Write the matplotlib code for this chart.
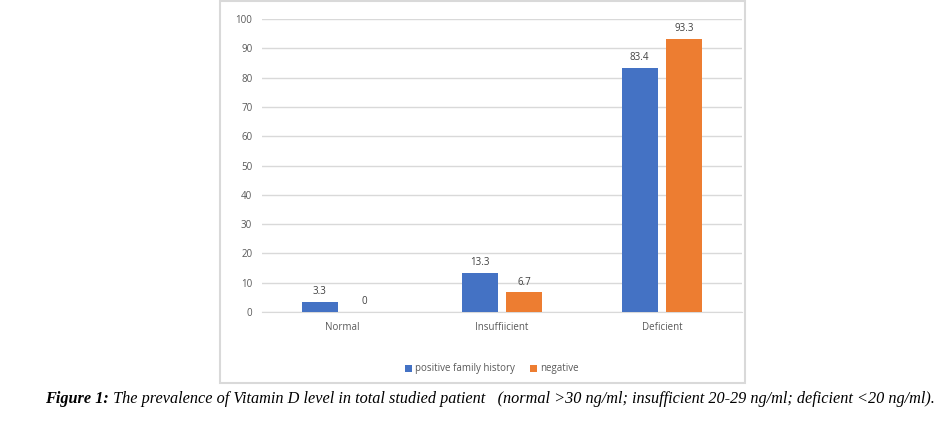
import matplotlib
matplotlib.use("Agg")
import matplotlib.pyplot as plt
from matplotlib.patches import Rectangle
import numpy as np

categories = ["Normal", "Insuffiicient", "Deficient"]
series_names = ["positive family history", "negative"]
positive = [3.3, 13.3, 83.4]
negative = [0, 6.7, 93.3]
yticks = [0, 10, 20, 30, 40, 50, 60, 70, 80, 90, 100]

W, H = 949, 422
fig = plt.figure(figsize=(W / 100, H / 100), dpi=100)
fig.patch.set_facecolor("white")

# chart border
fig.patches.append(Rectangle((220 / W, 1 - 383 / H), (745 - 220) / W, (383 - 1) / H,
                             transform=fig.transFigure, fill=False,
                             edgecolor="#d9d9d9", linewidth=1.5))

ax = fig.add_axes([262 / W, 1 - 312 / H, (742 - 262) / W, (312 - 19) / H])
x = np.arange(len(categories))
bw = 0.225
off = 0.14
blue = "#4472c4"
orange = "#ed7d31"
tc = "#595959"
b1 = ax.bar(x - off, positive, bw, color=blue, label=series_names[0], zorder=3)
b2 = ax.bar(x + off, negative, bw, color=orange, label=series_names[1], zorder=3)
for bars, vals in ((b1, positive), (b2, negative)):
    for r, v in zip(bars, vals):
        ax.annotate(f"{v:g}", (r.get_x() + r.get_width() / 2, v), xytext=(0, 3.5),
                    textcoords="offset points", ha="center", va="bottom",
                    fontsize=7, color="#404040", family="Open Sans")

ax.set_xlim(-0.5, 2.5)
ax.set_ylim(0, 100)
ax.set_yticks(yticks)
ax.set_yticklabels([str(t) for t in yticks], fontsize=7, color=tc, family="Open Sans")
ax.set_xticks(x)
ax.set_xticklabels(categories, fontsize=7, color=tc, family="Open Sans")
ax.tick_params(axis="y", length=0, pad=7)
ax.tick_params(axis="x", length=0, pad=7)
ax.grid(axis="y", color="#d9d9d9", linewidth=1, zorder=0)
for s in ["top", "right", "left"]:
    ax.spines[s].set_visible(False)
ax.spines["bottom"].set_color("#d9d9d9")
ax.set_facecolor("none")

leg = fig.legend(handles=[b1, b2], labels=series_names, loc="center",
                 bbox_to_anchor=(492 / W, 1 - 369 / H), ncol=2, frameon=False,
                 prop={"family": "Open Sans", "size": 7}, handlelength=0.7,
                 handleheight=0.7, handletextpad=0.3, columnspacing=1.6)
for t in leg.get_texts():
    t.set_color(tc)

cap_y = 1 - 399 / H
t1 = fig.text(45 / W, cap_y, "Figure 1:", fontsize=11.7, family="Liberation Serif",
              style="italic", weight="bold", va="center", ha="left")
fig.canvas.draw()
bb = t1.get_window_extent()
fig.text(bb.x1 / W, cap_y,
         " The prevalence of Vitamin D level in total studied patient   (normal >30 ng/ml; insufficient 20-29 ng/ml; deficient <20 ng/ml).",
         fontsize=11.7, family="Liberation Serif", style="italic", va="center", ha="left")

fig.savefig("out.png", dpi=100)
